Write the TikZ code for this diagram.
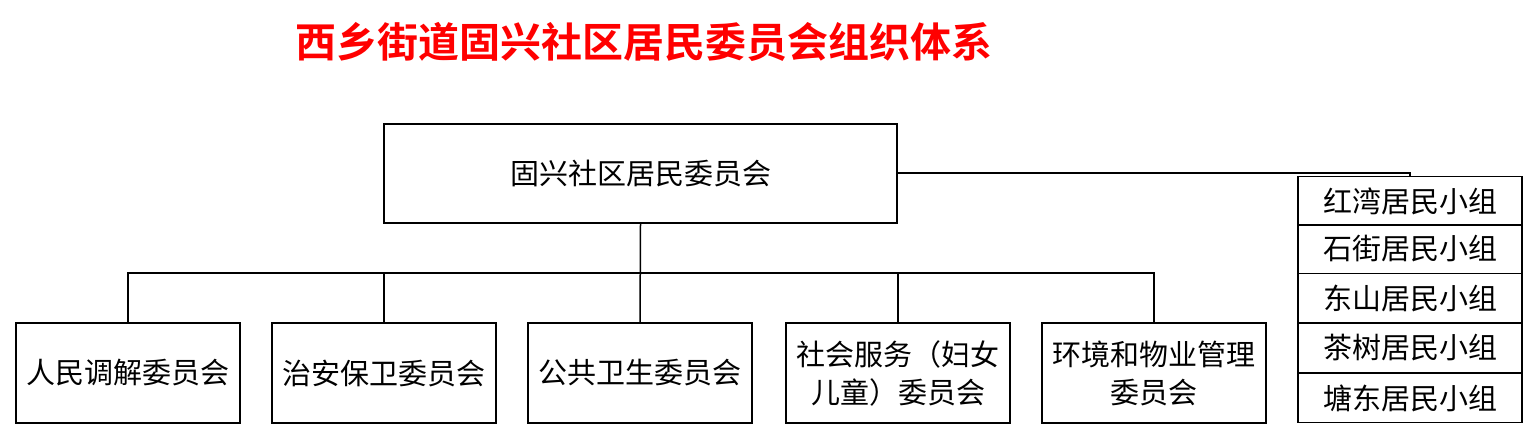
\documentclass[tikz,border=0pt]{standalone}
\usepackage{fontspec}
\setmainfont{Liberation Serif}
\newfontfamily\cjk{Noto Sans CJK SC}
\newfontfamily\cjkb{Noto Sans CJK SC Bold}
\begin{document}
\begin{tikzpicture}[x=1pt,y=-1pt,
  box/.style={draw,line width=1.5pt,inner sep=0pt,font=\cjk\fontsize{29}{38}\selectfont,align=center},
  ln/.style={line width=1.5pt}]
\useasboundingbox (0,0) rectangle (1538,440);
\node[font=\cjkb\fontsize{41}{48}\selectfont,text=red] (title) at (644,42) {西乡街道固兴社区居民委员会组织体系};
\node[box,minimum width=513pt,minimum height=99pt] (top) at (640.5,173.5) {固兴社区居民委员会};
\foreach \n/\x/\t in {a/128/人民调解委员会,b/384/治安保卫委员会,c/640/公共卫生委员会,d/898/社会服务（妇女\\儿童）委员会,e/1154/环境和物业管理\\委员会}{
  \node[box,minimum width=224pt,minimum height=100pt] (\n) at (\x,373) {\t};
}
\coordinate (bus) at (640,273);
\draw[ln] (top.south) -- (c.north);
\draw[ln] (a.north) |- (bus) -| (e.north);
\draw[ln] (b.north) -- (b.north |- bus);
\draw[ln] (d.north) -- (d.north |- bus);
\foreach \n/\y/\t in {r1/201/红湾居民小组,r2/249/石街居民小组,r3/298/东山居民小组,r4/348/茶树居民小组,r5/398/塘东居民小组}{
  \node[box,minimum width=224pt,minimum height=49pt] (\n) at (1410,\y) {\t};
}
\coordinate (k) at (1410,173);
\draw[ln] (top.east |- k) -- (k) -- (r1.north);
\end{tikzpicture}
\end{document}
